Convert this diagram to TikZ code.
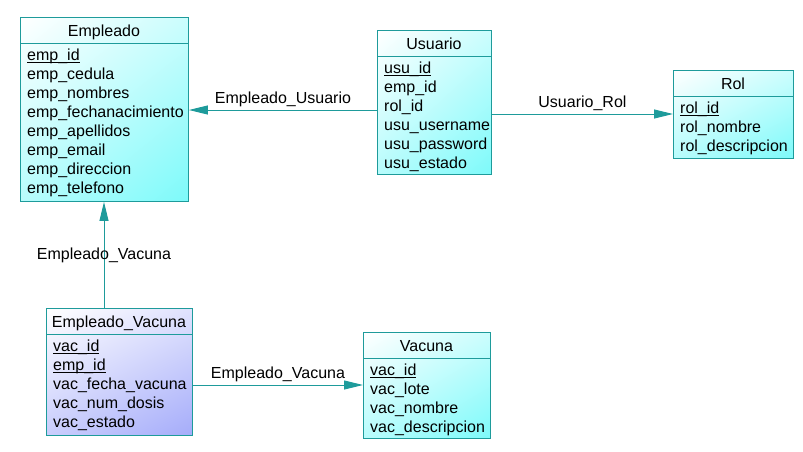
\documentclass[tikz,border=0pt]{standalone}
\usepackage{fontspec}
\setmainfont{Liberation Sans}
\usetikzlibrary{arrows.meta,shadings}
\definecolor{borde}{RGB}{30,155,155}
\definecolor{celeste}{RGB}{125,250,250}
\definecolor{lila}{RGB}{165,172,250}
\newcommand{\clave}[1]{\setbox0\hbox{#1}\rlap{\rule[-3.2pt]{\wd0}{1.1pt}}\box0}
\tikzset{
  tabla/.style={draw=borde, line width=0.9pt, anchor=north west, inner sep=0pt},
  tabcian/.style={upper left=white, upper right=celeste!40!white, lower left=celeste!55!white, lower right=celeste},
  tablila/.style={upper left=white, upper right=lila!35!white, lower left=lila!60!white, lower right=lila},
  titulo/.style={anchor=base, inner sep=0pt},
  campo/.style={anchor=base west, inner sep=0pt},
  linea/.style={draw=borde, line width=0.9pt},
  rel/.style={draw=borde, line width=0.9pt, ->},
  etiqueta/.style={inner sep=1pt}
}
\begin{document}
\begin{tikzpicture}[x=1pt, y=-1pt, font=\fontsize{16}{19}\selectfont, >={Triangle[length=19pt,width=9pt]}]
	\useasboundingbox (0,0) rectangle (803,451);
	% Empleado
	\node[tabla, tabcian, minimum width=168pt, minimum height=184pt] (emp) at (20,17) {};
	\node[titulo] (empT) at (104,36) {Empleado};
	\draw[linea] ([yshift=-26pt]emp.north west) -- ([yshift=-26pt]emp.north east);
	\foreach \f [count=\i] in {\clave{emp\_id}, emp\_cedula, emp\_nombres, emp\_fechanacimiento, emp\_apellidos, emp\_email, emp\_direccion, emp\_telefono}
		\node[campo] (emp\i) at (27,{41+19*\i}) {\f};
	% Usuario
	\node[tabla, tabcian, minimum width=114pt, minimum height=144pt] (usu) at (377,30) {};
	\node[titulo] (usuT) at (434,49) {Usuario};
	\draw[linea] ([yshift=-26pt]usu.north west) -- ([yshift=-26pt]usu.north east);
	\foreach \f [count=\i] in {\clave{usu\_id}, emp\_id, rol\_id, usu\_username, usu\_password, usu\_estado}
		\node[campo] (usu\i) at (384,{54+19*\i}) {\f};
	% Rol
	\node[tabla, tabcian, minimum width=120pt, minimum height=88pt] (rol) at (673,70) {};
	\node[titulo] (rolT) at (733,89) {Rol};
	\draw[linea] ([yshift=-26pt]rol.north west) -- ([yshift=-26pt]rol.north east);
	\foreach \f [count=\i] in {\clave{rol\_id}, rol\_nombre, rol\_descripcion}
		\node[campo] (rol\i) at (680,{94+19*\i}) {\f};
	% Empleado_Vacuna
	\node[tabla, tablila, minimum width=146pt, minimum height=127pt] (ev) at (46,308) {};
	\node[titulo] (evT) at (119,327) {Empleado\_Vacuna};
	\draw[linea] ([yshift=-26pt]ev.north west) -- ([yshift=-26pt]ev.north east);
	\foreach \f [count=\i] in {\clave{vac\_id}, \clave{emp\_id}, vac\_fecha\_vacuna, vac\_num\_dosis, vac\_estado}
		\node[campo] (ev\i) at (53,{332+19*\i}) {\f};
	% Vacuna
	\node[tabla, tabcian, minimum width=127pt, minimum height=106pt] (vac) at (363,332) {};
	\node[titulo] (vacT) at (426.5,351) {Vacuna};
	\draw[linea] ([yshift=-26pt]vac.north west) -- ([yshift=-26pt]vac.north east);
	\foreach \f [count=\i] in {\clave{vac\_id}, vac\_lote, vac\_nombre, vac\_descripcion}
		\node[campo] (vac\i) at (370,{356+19*\i}) {\f};
	% relaciones
	\coordinate (eu) at (0,110);
	\coordinate (ur) at (0,114);
	\coordinate (evv) at (104,0);
	\coordinate (evh) at (0,385);
	\draw[rel] (usu.west |- eu) -- (emp.east |- eu) node[midway, above=2pt, etiqueta] (euL) {Empleado\_Usuario};
	\draw[rel] (usu.east |- ur) -- (rol.west |- ur) node[midway, above=2pt, etiqueta] (urL) {Usuario\_Rol};
	\draw[rel] (evv |- ev.north) -- (evv |- emp.south) node[midway, etiqueta] (evvL) {Empleado\_Vacuna};
	\draw[rel] (ev.east |- evh) -- (vac.west |- evh) node[midway, above=2pt, etiqueta] (evhL) {Empleado\_Vacuna};
\end{tikzpicture}
\end{document}
